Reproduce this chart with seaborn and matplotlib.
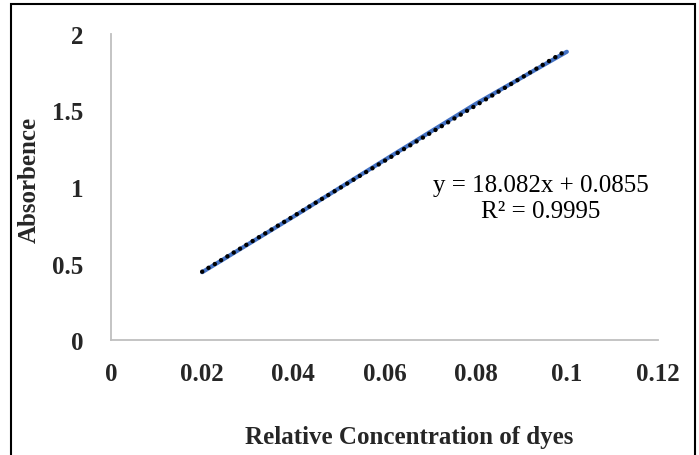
import numpy as np
import pandas as pd
import seaborn as sns
import matplotlib
matplotlib.use("Agg")
import matplotlib.pyplot as plt
from matplotlib.patches import Rectangle

# Data
concentration = [0.02, 0.04, 0.06, 0.08, 0.10]
absorbance = [0.443, 0.806, 1.176, 1.543, 1.884]
x_ticks = [0, 0.02, 0.04, 0.06, 0.08, 0.1, 0.12]
x_tick_labels = ["0", "0.02", "0.04", "0.06", "0.08", "0.1", "0.12"]
y_ticks = [0, 0.5, 1, 1.5, 2]
y_tick_labels = ["0", "0.5", "1", "1.5", "2"]
equation_text = "y = 18.082x + 0.0855\nR² = 0.9995"
x_label = "Relative Concentration of dyes"
y_label = "Absorbence"

sns.set_theme(style="white")
plt.rcParams['font.family'] = ['Liberation Serif', 'DejaVu Serif']

df = pd.DataFrame({"x": concentration, "y": absorbance})

W, H = 699, 456
fig = plt.figure(figsize=(W / 100, H / 100), dpi=100)
ax = fig.add_axes([111 / W, (H - 341) / H, (658 - 111) / W, (341 - 35) / H])

sns.lineplot(data=df, x="x", y="y", ax=ax, color="#4472C4", linewidth=3.0,
             solid_capstyle="round", zorder=2)
sns.regplot(data=df, x="x", y="y", ax=ax, scatter=False, ci=None,
            line_kws=dict(color="black", linewidth=3.2, linestyle=(0, (0.01, 1.65)),
                          dash_capstyle="round", zorder=3))

ax.set_xlim(0, 0.12)
ax.set_ylim(0, 2)
ax.set_xticks(x_ticks)
ax.set_xticklabels(x_tick_labels, fontsize=18, fontweight="bold")
ax.set_yticks(y_ticks)
ax.set_yticklabels(y_tick_labels, fontsize=18, fontweight="bold")
ax.tick_params(axis="both", length=0)
ax.tick_params(axis="x", pad=16)
ax.tick_params(axis="y", pad=20)
ax.set_xlabel("")
ax.set_ylabel("")
for s in ["top", "right"]:
    ax.spines[s].set_visible(False)
for s in ["left", "bottom"]:
    ax.spines[s].set_color("#BFBFBF")
    ax.spines[s].set_linewidth(1.3)
ax.grid(False)

ax.text(0.0943, 0.93, equation_text, fontsize=18, ha="center", va="center",
        linespacing=1.25, color="black")

fig.text(409 / W, 1 - 438 / H, x_label, fontsize=18, fontweight="bold",
         ha="center", va="center")
fig.text(29 / W, 1 - 180 / H, y_label, fontsize=18, fontweight="bold",
         ha="center", va="center", rotation=90)

fig.patches.append(Rectangle((11 / W, -0.05), (695 - 11) / W, 1 - 4.5 / H + 0.05,
                             transform=fig.transFigure, fill=False,
                             edgecolor="black", linewidth=1.5))

fig.savefig("out.png", dpi=100)
